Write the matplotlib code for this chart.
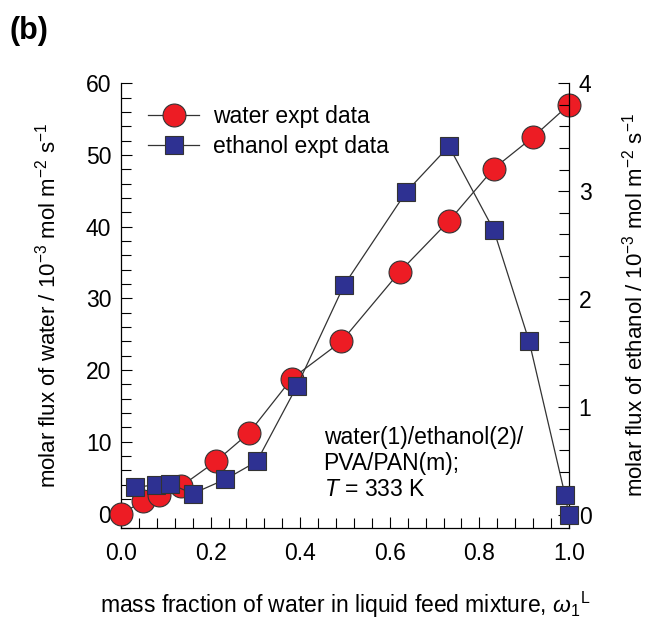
import matplotlib.pyplot as plt
from matplotlib.ticker import MultipleLocator

plt.rcParams['font.family'] = ['Liberation Sans', 'DejaVu Sans']
plt.rcParams['mathtext.fontset'] = 'custom'
plt.rcParams['mathtext.rm'] = 'Liberation Sans'
plt.rcParams['mathtext.it'] = 'Liberation Sans:italic'

# water flux, 10^-3 mol m^-2 s^-1 (left axis)
x_water = [0.0, 0.05, 0.084, 0.134, 0.212, 0.285, 0.381, 0.492, 0.622, 0.732, 0.832, 0.92, 1.0]
flux_water = [0.0, 1.7, 2.6, 3.8, 7.3, 11.2, 18.8, 24.0, 33.7, 40.8, 48.1, 52.5, 57.0]

# ethanol flux, 10^-3 mol m^-2 s^-1 (right axis)
x_ethanol = [0.032, 0.078, 0.11, 0.16, 0.233, 0.303, 0.393, 0.498, 0.637, 0.732, 0.832, 0.911, 0.991, 1.0]
flux_ethanol = [0.255, 0.28, 0.286, 0.197, 0.33, 0.495, 1.196, 2.13, 2.995, 3.416, 2.64, 1.61, 0.187, 0.0]

red = '#ed1c24'
blue = '#2e3192'

fig = plt.figure(figsize=(6.51, 6.21), dpi=100)
ax = fig.add_axes([0.186, 0.150, 0.688, 0.716])
ax2 = ax.twinx()

l1, = ax.plot(x_water, flux_water, '-o', color='#333333', lw=0.9,
              mfc=red, mec='#333333', mew=0.8, ms=16.5, clip_on=False, zorder=3)
l2, = ax2.plot(x_ethanol, flux_ethanol, '-s', color='#333333', lw=0.9,
               mfc=blue, mec='#333333', mew=0.8, ms=13, clip_on=False, zorder=3)

ax.set_xlim(0, 1)
ax.set_ylim(-2, 60)
ax2.set_ylim(-0.12, 4)

ax.xaxis.set_major_locator(MultipleLocator(0.2))
ax.xaxis.set_minor_locator(MultipleLocator(0.04))
ax.yaxis.set_major_locator(MultipleLocator(10))
ax.yaxis.set_minor_locator(MultipleLocator(2))
ax2.yaxis.set_major_locator(MultipleLocator(1))
ax2.yaxis.set_minor_locator(MultipleLocator(0.2))
ax.xaxis.set_major_formatter(plt.FormatStrFormatter('%.1f'))

for a in (ax, ax2):
    a.spines['top'].set_visible(False)
    for s in a.spines.values():
        s.set_linewidth(0.9)
    a.tick_params(which='both', direction='in', width=0.8, labelsize=16.5, pad=7)
    a.tick_params(which='major', length=8)
    a.tick_params(which='minor', length=7)
ax.spines['right'].set_visible(False)
ax2.spines['left'].set_visible(False)
ax2.spines['bottom'].set_visible(False)
ax.tick_params(axis='x', pad=10)

ax.set_xlabel(r'mass fraction of water in liquid feed mixture, $\omega_1$$^{\mathrm{L}}$',
              fontsize=16.5, labelpad=18)
ax.set_ylabel(r'molar flux of water / 10$^{-3}$ mol m$^{-2}$ s$^{-1}$', fontsize=16, labelpad=18)
ax2.set_ylabel(r'molar flux of ethanol / 10$^{-3}$ mol m$^{-2}$ s$^{-1}$', fontsize=16, labelpad=22)

ax.legend([l1, l2], ['water expt data', 'ethanol expt data'], loc='upper left',
          bbox_to_anchor=(0.015, 0.998), frameon=False, fontsize=16.5,
          handlelength=2.2, handletextpad=0.6, labelspacing=0.3)

ax.text(0.452, 0.145, 'water(1)/ethanol(2)/\nPVA/PAN(m);\n$T$ = 333 K', transform=ax.transAxes,
        fontsize=16.5, va='center', ha='left', linespacing=1.16)

fig.text(0.015, 0.975, '(b)', fontsize=22, fontweight='bold', va='top')

fig.savefig('out.png', dpi=100)
